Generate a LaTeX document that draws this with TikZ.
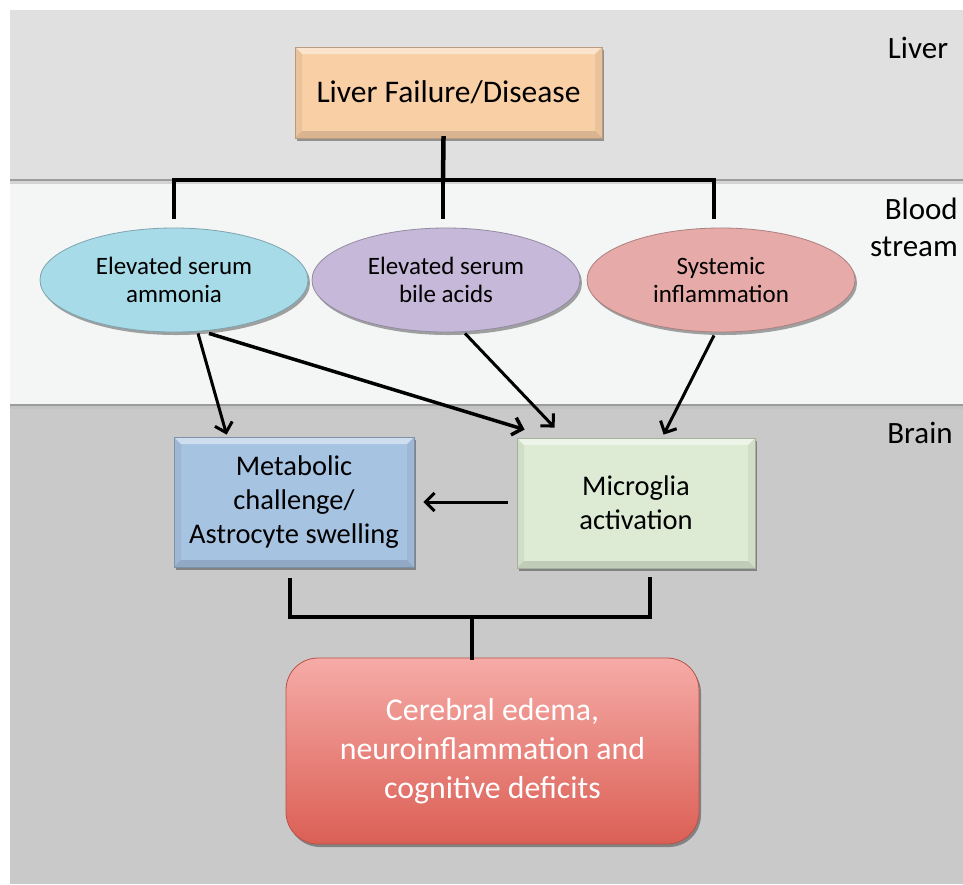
\documentclass[tikz,border=0pt]{standalone}
\usepackage{fontspec}
\setmainfont{Carlito}
\usetikzlibrary{shapes.geometric,arrows.meta,shadows,calc}
\definecolor{liverbg}{HTML}{DFE0DF}
\definecolor{bloodbg}{HTML}{F4F5F5}
\definecolor{brainbg}{HTML}{C9C9C9}
\definecolor{sepc}{HTML}{9C9C9C}
\definecolor{liverc}{HTML}{F9CFA6}
\definecolor{ammc}{HTML}{A8DBE8}
\definecolor{bilec}{HTML}{C6B8D8}
\definecolor{sysc}{HTML}{E6AAA9}
\definecolor{metc}{HTML}{A7C3E2}
\definecolor{micc}{HTML}{DDEBD4}
\definecolor{certop}{HTML}{F6ABA7}
\definecolor{cerbot}{HTML}{DB5F55}
\tikzset{
  sidelabel/.style={font=\fontsize{31}{37}\selectfont, inner sep=0pt},
  shad/.style={drop shadow={shadow xshift=2pt, shadow yshift=-3pt, opacity=.35, fill=black}},
  bevel/.style={path picture={
     \fill[white,opacity=.45] (path picture bounding box.north west) -- (path picture bounding box.north east)
        -- ([xshift=-7pt,yshift=-7pt]path picture bounding box.north east) -- ([xshift=7pt,yshift=-7pt]path picture bounding box.north west) -- cycle;
     \fill[black,opacity=.13] (path picture bounding box.south west) -- (path picture bounding box.south east)
        -- ([xshift=-7pt,yshift=7pt]path picture bounding box.south east) -- ([xshift=7pt,yshift=7pt]path picture bounding box.south west) -- cycle;
     \fill[black,opacity=.06] (path picture bounding box.south west) -- (path picture bounding box.north west)
        -- ([xshift=7pt,yshift=-7pt]path picture bounding box.north west) -- ([xshift=7pt,yshift=7pt]path picture bounding box.south west) -- cycle;
     \fill[black,opacity=.06] (path picture bounding box.south east) -- (path picture bounding box.north east)
        -- ([xshift=-7pt,yshift=-7pt]path picture bounding box.north east) -- ([xshift=-7pt,yshift=7pt]path picture bounding box.south east) -- cycle;
  }},
  ellbevel/.style={path picture={
     \draw[white,opacity=.45,line width=4pt] ([yshift=-6pt]path picture bounding box.north west) ++(0pt,0pt)
        (path picture bounding box.center) ++(-120pt,-2pt) arc[start angle=180, end angle=0, x radius=120pt, y radius=42pt];
  }},
  boxnode/.style={rectangle, shad, bevel, fill=#1, draw=#1!75!black, line width=0.8pt, align=center, inner sep=0pt},
  ellnode/.style={ellipse, shad, fill=#1, draw=#1!75!black, line width=0.8pt, align=center, inner sep=0pt,
     minimum width=268pt, minimum height=104pt, font=\fontsize{25}{28}\selectfont},
  arr/.style={line width=3pt, -{Straight Barb[length=9pt,width=18pt]}},
  bracket/.style={line width=4.5pt, line cap=rect},
}
\begin{document}
\begin{tikzpicture}[x=1pt,y=-1pt]
\useasboundingbox (0,0) rectangle (963,884);
% bands
\fill[white] (0,0) rectangle (963,884);
\fill[liverbg] (10,10) rectangle (963,180);
\fill[bloodbg] (10,180) rectangle (963,405);
\fill[brainbg] (10,405) rectangle (963,884);
\fill[black!25,opacity=.6] (10,180) rectangle (963,184);
\draw[sepc, line width=2pt] (10,180) -- (963,180);
\fill[black!25,opacity=.6] (10,405) rectangle (963,409);
\draw[sepc, line width=2pt] (10,405) -- (963,405);
% side labels
\node[sidelabel] (lblliver) at (918,48) {Liver};
\node[sidelabel, align=right, anchor=east] (lblblood) at (958,227) {Blood\\stream};
\node[sidelabel] (lblbrain) at (920,433) {Brain};
% nodes
\node[boxnode=liverc, minimum width=307pt, minimum height=91pt, font=\fontsize{31.5}{36}\selectfont] (liv) at (448.5,92.5) {Liver Failure/Disease};
\node[ellnode=ammc] (amm) at (174,280) {Elevated serum\\ammonia};
\node[ellnode=bilec] (bile) at (446,280) {Elevated serum\\bile acids};
\node[ellnode=sysc] (sys) at (721,280) {Systemic\\inflammation};
\node[boxnode=metc, minimum width=240pt, minimum height=130pt, font=\fontsize{28.5}{34}\selectfont] (met) at (294,502) {Metabolic\\challenge/\\Astrocyte swelling};
\node[boxnode=micc, minimum width=238pt, minimum height=130pt, font=\fontsize{28.5}{34}\selectfont] (mic) at (636,503) {Microglia\\activation};
\node[rectangle, rounded corners=32pt, shad, top color=certop, bottom color=cerbot, draw=cerbot!85!black, line width=0.8pt,
      minimum width=413pt, minimum height=186pt, align=center, inner sep=0pt, text=white,
      font=\fontsize{31.8}{39}\selectfont] (cer) at (492.5,751) {Cerebral edema,\\neuroinflammation and\\cognitive deficits};
% top bracket
\coordinate (hub1) at (443,180);
\draw[bracket] ($(liv.south)+(-5,0)$) -- (hub1);
\draw[bracket] ($(amm.north)+(0,-11)$) |- (hub1) -| ($(sys.north)+(-7,-11)$);
\draw[bracket] (hub1) -- ($(bile.north)+(-3,-11)$);
% arrows
\draw[arr] ($(amm.south)+(24,1)$) -- ($(met.north west)+(53,-2)$);
\draw[arr, line width=3.5pt] ($(amm.south)+(35,1)$) -- ($(mic.north west)+(8,-8)$);
\draw[arr] ($(bile.south)+(19,1)$) -- ($(mic.north west)+(38,-10)$);
\draw[arr] ($(sys.south)+(-7,3)$) -- ($(mic.north west)+(147,-3)$);
\draw[arr] ($(mic.west)+(-9,-1)$) -- ($(met.east)+(9,0)$);
% bottom bracket
\coordinate (hub2) at (472,617);
\draw[bracket] ($(met.south)+(-4,13)$) |- (hub2) -| ($(mic.south)+(14,11)$);
\draw[bracket] (hub2) -- (hub2 |- cer.north);
\end{tikzpicture}
\end{document}
